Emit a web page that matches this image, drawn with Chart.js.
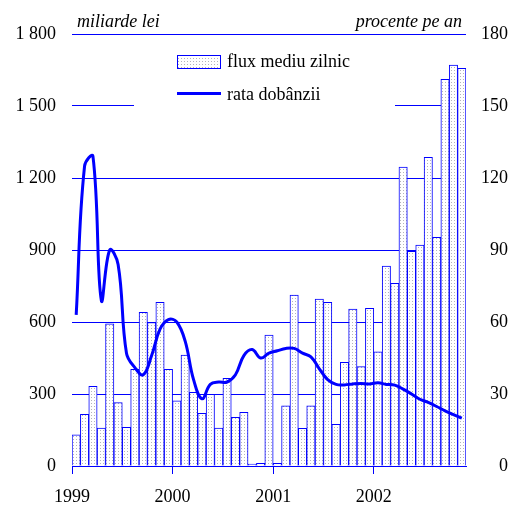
<!DOCTYPE html>
<html>
<head>
<meta charset="utf-8">
<script src="https://cdn.jsdelivr.net/npm/chart.js@4"></script>
<style>
    body { margin: 0; background: #fff; }
    canvas { display: block; }
</style>
</head>
<body>
<canvas id="chart" width="514" height="508"></canvas>
<script>
// monthly data, Jan 1999 .. Nov 2002
const yearLabels = ['1999', '2000', '2001', '2002'];
const fluxValues = [
    130, 215, 332, 158, 592, 264, 161, 403, 640, 598, 682, 403,
    272, 462, 307, 219, 299, 158, 365, 203, 224, 8, 11, 546,
    11, 251, 712, 157, 251, 696, 682, 174, 432, 654, 414, 657,
    476, 833, 761, 1245, 894, 920, 1286, 953, 1611, 1670, 1657
];
const rateValues = [
    63, 125, 129, 69, 90, 84, 47, 41, 38, 46, 57, 61,
    60, 52, 36, 28, 34, 35, 35, 38, 46, 48.5, 45, 47,
    48, 49, 49, 47, 45.5, 40.5, 36, 34, 33.8, 34.2, 34.4, 34.2,
    34.7, 34, 33.7, 32, 30, 27.8, 26.5, 24.8, 23, 21.4, 19.9
];
const seriesNames = ['flux mediu zilnic', 'rata dobânzii'];
const leftTitle = 'miliarde lei';
const rightTitle = 'procente pe an';

const BLUE = '#0000ff';
const FONT = '"Liberation Serif", "Times New Roman", serif';

function makeDotPattern() {
    const tile = document.createElement('canvas');
    tile.width = 3;
    tile.height = 3;
    const tctx = tile.getContext('2d');
    tctx.fillStyle = '#ffffff';
    tctx.fillRect(0, 0, 3, 3);
    tctx.fillStyle = '#b4b4bc';
    tctx.fillRect(1, 1, 1, 1);
    return document.getElementById('chart').getContext('2d').createPattern(tile, 'repeat');
}

function formatThousands(v) {
    if (v >= 1000) return Math.floor(v / 1000) + ' ' + String(v % 1000).padStart(3, '0');
    return String(v);
}

const dotPattern = makeDotPattern();

const legendAndTitles = {
    id: 'legendAndTitles',
    beforeDatasetsDraw(chart) {
        const ctx = chart.ctx;
        ctx.save();
        // legend box hides the grid behind it
        ctx.fillStyle = '#ffffff';
        ctx.fillRect(134, 40, 261, 76);

        ctx.fillStyle = dotPattern;
        ctx.fillRect(177, 55, 44, 14);
        ctx.strokeStyle = BLUE;
        ctx.lineWidth = 1;
        ctx.strokeRect(177.5, 55.5, 43, 13);

        ctx.beginPath();
        ctx.moveTo(177, 93.5);
        ctx.lineTo(221, 93.5);
        ctx.lineWidth = 3;
        ctx.stroke();

        ctx.fillStyle = '#000';
        ctx.font = '18px ' + FONT;
        ctx.textAlign = 'left';
        ctx.textBaseline = 'middle';
        ctx.fillText(seriesNames[0], 227, 62);
        ctx.fillText(seriesNames[1], 227, 95);
        ctx.restore();
    },
    afterDraw(chart) {
        const ctx = chart.ctx;
        ctx.save();
        ctx.fillStyle = '#000';
        ctx.font = 'italic 18px ' + FONT;
        ctx.textBaseline = 'alphabetic';
        ctx.textAlign = 'left';
        ctx.fillText(leftTitle, 77, 27);
        ctx.textAlign = 'right';
        ctx.fillText(rightTitle, 462, 27);
        ctx.restore();
    }
};

new Chart(document.getElementById('chart'), {
    type: 'bar',
    data: {
        datasets: [{
            type: 'line',
            label: seriesNames[1],
            data: rateValues.map((v, i) => ({ x: i + 0.5, y: v })),
            yAxisID: 'y2',
            borderColor: BLUE,
            borderWidth: 3,
            pointRadius: 0,
            tension: 0.4,
            fill: false,
            order: 0
        }, {
            label: seriesNames[0],
            data: fluxValues.map((v, i) => ({ x: i + 0.5, y: v })),
            yAxisID: 'y',
            backgroundColor: dotPattern,
            borderColor: BLUE,
            borderWidth: 1,
            barPercentage: 1,
            categoryPercentage: 1,
            order: 1
        }]
    },
    options: {
        responsive: false,
        animation: false,
        layout: { padding: { top: 34, right: 6, left: 0, bottom: 0 } },
        plugins: {
            legend: { display: false },
            tooltip: { enabled: false }
        },
        scales: {
            x: {
                type: 'linear',
                min: 0,
                max: fluxValues.length,
                offset: false,
                afterBuildTicks: scale => {
                    scale.ticks = yearLabels.map((_, i) => ({ value: i * 12 }));
                },
                afterFit: scale => { scale.height = 42; },
                grid: {
                    offset: false,
                    drawOnChartArea: false,
                    drawTicks: true,
                    tickLength: 8,
                    color: BLUE
                },
                border: { display: true, color: BLUE },
                ticks: {
                    autoSkip: false,
                    maxRotation: 0,
                    padding: 12,
                    color: '#000',
                    font: { family: FONT, size: 18 },
                    callback: v => yearLabels[v / 12]
                }
            },
            y: {
                position: 'left',
                min: 0,
                max: 1800,
                afterFit: scale => { scale.width = 72; },
                grid: { color: BLUE, drawTicks: false },
                border: { display: false },
                ticks: {
                    stepSize: 300,
                    padding: 16,
                    color: '#000',
                    font: { family: FONT, size: 18 },
                    callback: v => formatThousands(v)
                }
            },
            y2: {
                position: 'right',
                min: 0,
                max: 180,
                afterFit: scale => { scale.width = 42; },
                grid: { drawOnChartArea: false, drawTicks: false },
                border: { display: false },
                ticks: {
                    stepSize: 30,
                    crossAlign: 'far',
                    color: '#000',
                    font: { family: FONT, size: 18 }
                }
            }
        }
    },
    plugins: [legendAndTitles]
});
</script>
</body>
</html>
